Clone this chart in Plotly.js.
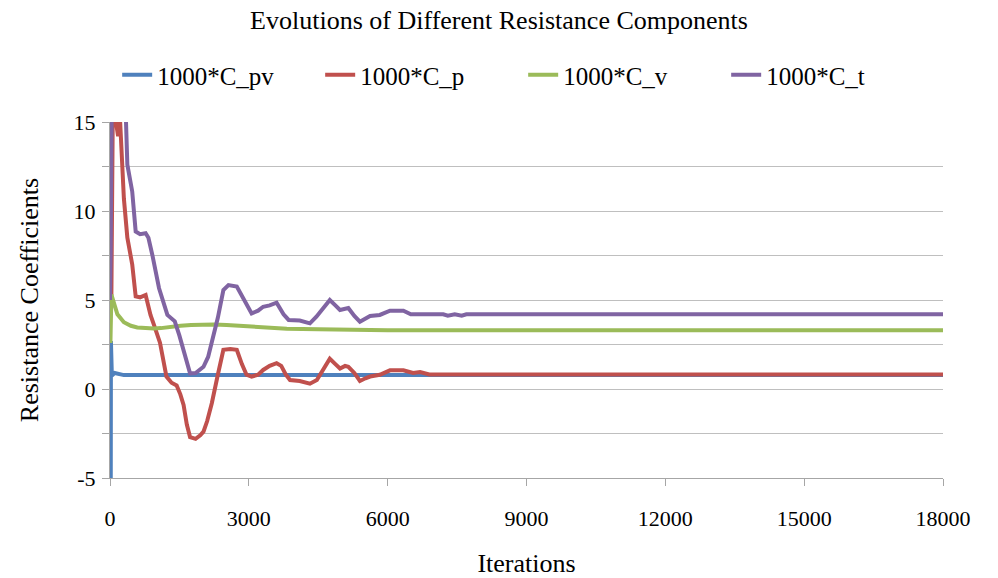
<!DOCTYPE html>
<html>
<head>
<meta charset="utf-8">
<script src="https://cdn.plot.ly/plotly-3.0.1.min.js"></script>
<style>html,body{margin:0;padding:0;background:#fff;}#chart{width:998px;height:578px;}</style>
</head>
<body>
<div id="chart"></div>
<script>
const seriesNames = ["1000*C_pv", "1000*C_p", "1000*C_v", "1000*C_t"];

const pvX = [15, 20, 40, 100, 180, 300, 500, 18000];
const pvY = [-9, 2.7, 0.75, 0.9, 0.85, 0.78, 0.78, 0.78];

const pX = [0, 30, 60, 100, 140, 175, 210, 265, 300, 375, 480, 555, 650, 770, 875, 950, 1080, 1220, 1330, 1440, 1520, 1590, 1660, 1730, 1850, 1950, 2020, 2100, 2200, 2330, 2400, 2450, 2600, 2740, 2850, 2950, 3060, 3200, 3310, 3450, 3600, 3700, 3800, 3890, 4100, 4320, 4470, 4620, 4750, 4870, 4970, 5080, 5150, 5280, 5400, 5520, 5620, 5830, 6050, 6340, 6550, 6700, 6900, 18000];
const pY = [5.0, 5.3, 15.5, 15.5, 14.8, 14.2, 15.5, 12.8, 10.7, 8.5, 7.0, 5.2, 5.15, 5.28, 4.16, 3.6, 2.6, 0.7, 0.35, 0.2, -0.3, -0.9, -2.0, -2.7, -2.8, -2.6, -2.4, -1.8, -0.8, 0.8, 1.8, 2.2, 2.25, 2.2, 1.4, 0.8, 0.7, 0.8, 1.07, 1.3, 1.45, 1.3, 0.8, 0.5, 0.45, 0.3, 0.5, 1.2, 1.7, 1.4, 1.15, 1.3, 1.25, 0.9, 0.45, 0.6, 0.7, 0.8, 1.05, 1.05, 0.9, 0.95, 0.82, 0.82];

const vX = [0, 10, 30, 80, 160, 300, 450, 590, 750, 950, 1100, 1300, 1525, 1750, 1950, 2250, 2520, 2800, 3020, 3400, 3820, 4500, 5200, 6000, 18000];
const vY = [2.7, 2.7, 5.3, 4.9, 4.2, 3.75, 3.55, 3.46, 3.42, 3.4, 3.42, 3.5, 3.55, 3.6, 3.62, 3.62, 3.6, 3.55, 3.5, 3.42, 3.38, 3.35, 3.33, 3.3, 3.3];

const tX = [0, 15, 40, 150, 300, 340, 375, 480, 555, 650, 770, 830, 915, 1060, 1240, 1400, 1500, 1590, 1730, 1850, 2020, 2120, 2200, 2330, 2450, 2560, 2740, 2900, 3060, 3200, 3310, 3450, 3600, 3750, 3860, 4100, 4320, 4460, 4620, 4750, 4870, 4970, 5150, 5280, 5400, 5520, 5620, 5830, 6050, 6340, 6500, 7200, 7300, 7450, 7600, 7700, 7800, 9950, 10000, 10050, 18000];
const tY = [5, 7.8, 17, 18, 17, 15.5, 12.6, 11.1, 8.85, 8.7, 8.75, 8.5, 7.53, 5.66, 4.16, 3.8, 3.0, 2.2, 0.88, 0.9, 1.25, 1.8, 2.6, 4.0, 5.56, 5.84, 5.75, 5.0, 4.25, 4.4, 4.62, 4.7, 4.85, 4.2, 3.88, 3.85, 3.69, 4.06, 4.6, 5.0, 4.7, 4.44, 4.55, 4.1, 3.78, 3.95, 4.1, 4.16, 4.4, 4.4, 4.2, 4.2, 4.12, 4.2, 4.12, 4.2, 4.2, 4.2, 4.15, 4.2, 4.2];

const colors = ["#4F81BD", "#C0504D", "#9BBB59", "#8064A2"];

const yTickVals = [-5, -2.5, 0, 2.5, 5, 7.5, 10, 12.5, 15];
const yTickText = ["-5", "", "0", "", "5", "", "10", "", "15"];
const xTickVals = [0, 3000, 6000, 9000, 12000, 15000, 18000];
const xTickText = ["0", "3000", "6000", "9000", "12000", "15000", "18000"];

const xs = [pvX, pX, vX, tX];
const ys = [pvY, pY, vY, tY];
const traces = seriesNames.map((n, i) => ({
  x: xs[i], y: ys[i], name: n, type: "scatter", mode: "lines",
  line: {color: colors[i], width: 4, shape: "linear"}
}));

const serif = "Liberation Serif, Times New Roman, serif";
const layout = {
  width: 998, height: 578,
  margin: {l: 110, r: 55, t: 122, b: 100, autoexpand: false},
  paper_bgcolor: "#fff", plot_bgcolor: "#fff",
  font: {family: serif, color: "#000", size: 22},
  title: {text: "Evolutions of Different Resistance Components", x: 0.5, xanchor: "center", y: 0.965, yanchor: "middle", font: {family: serif, size: 26, color: "#000"}},
  showlegend: true,
  legend: {orientation: "h", x: 0.496, xanchor: "center", y: 1.132, yanchor: "middle", font: {family: serif, size: 25, color: "#000"}, entrywidth: 158, entrywidthmode: "pixels", tracegroupgap: 0},
  xaxis: {
    range: [0, 18000], tickmode: "array", tickvals: xTickVals, ticktext: xTickText,
    showgrid: false, zeroline: false, showline: true, linecolor: "#a6a6a6", linewidth: 1,
    ticks: "outside", ticklen: 7, tickcolor: "#a6a6a6", ticklabelstandoff: 14,
    tickfont: {family: serif, size: 22, color: "#000"},
    title: {text: "Iterations", font: {family: serif, size: 26, color: "#000"}, standoff: 26}
  },
  yaxis: {
    range: [-5, 15], tickmode: "array", tickvals: yTickVals, ticktext: yTickText,
    showgrid: true, gridcolor: "#bfbfbf", gridwidth: 1, zeroline: false,
    showline: true, linecolor: "#a6a6a6", linewidth: 1,
    ticks: "outside", ticklen: 7, tickcolor: "#a6a6a6", ticklabelstandoff: 2,
    tickfont: {family: serif, size: 22, color: "#000"},
    title: {text: "Resistance Coefficients", font: {family: serif, size: 26, color: "#000"}, standoff: 27}
  }
};

Plotly.newPlot("chart", traces, layout, {displayModeBar: false, staticPlot: true});
</script>
</body>
</html>
